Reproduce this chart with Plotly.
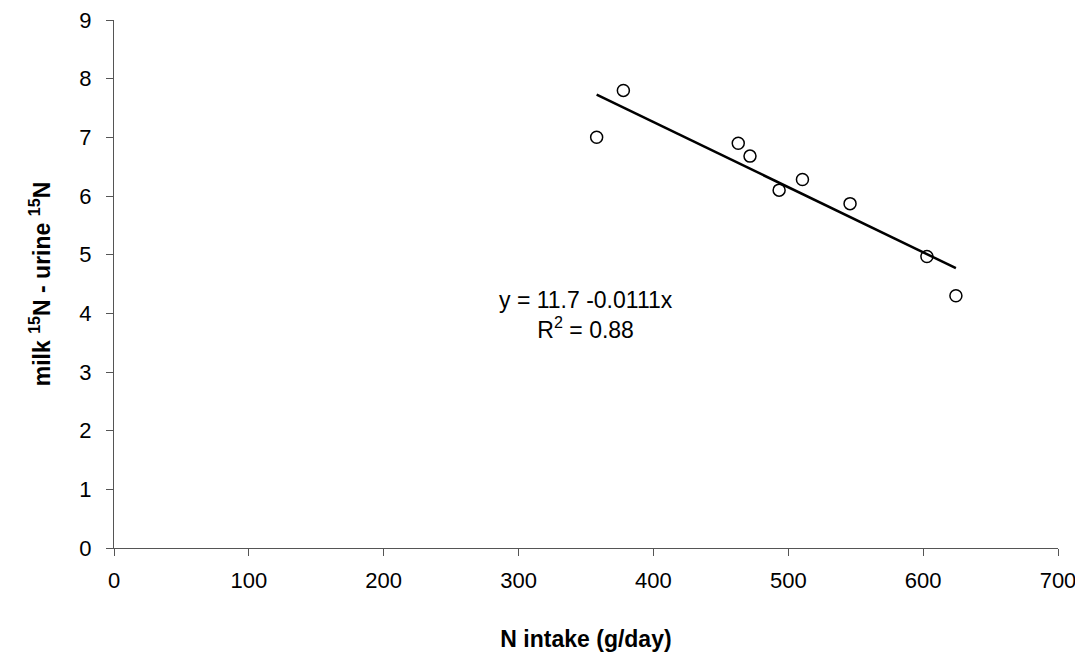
import plotly.graph_objects as go

# Data
n_intake = [357.9, 377.7, 462.9, 471.6, 493.2, 510.5, 545.8, 602.8, 624.3]
delta_15n = [7.00, 7.80, 6.90, 6.68, 6.10, 6.28, 5.87, 4.97, 4.30]

# Regression shown on chart
intercept = 11.7
slope = -0.0111
fit_x = [min(n_intake), max(n_intake)]
fit_y = [intercept + slope * x for x in fit_x]

x_ticks = [0, 100, 200, 300, 400, 500, 600, 700]
y_ticks = [0, 1, 2, 3, 4, 5, 6, 7, 8, 9]

font_family = "Liberation Sans, Arial, sans-serif"

fig = go.Figure()
fig.add_trace(go.Scatter(
    x=fit_x, y=fit_y, mode="lines",
    line=dict(color="black", width=2.5),
    showlegend=False, hoverinfo="skip",
))
fig.add_trace(go.Scatter(
    x=n_intake, y=delta_15n, mode="markers",
    marker=dict(symbol="circle-open", size=12, color="black", line=dict(width=1.5)),
    showlegend=False,
))

fig.add_annotation(
    x=350, y=3.98, xref="x", yref="y", xanchor="center", yanchor="middle",
    text="y = 11.7 -0.0111x<br>R<sup>2</sup> = 0.88",
    showarrow=False, align="center",
    font=dict(family=font_family, size=23, color="black"),
)

fig.update_layout(
    width=1075, height=644,
    margin=dict(l=106, r=25, t=12, b=104, autoexpand=False),
    paper_bgcolor="white", plot_bgcolor="white",
    font=dict(family=font_family, size=22, color="black"),
    xaxis=dict(
        range=[0, 700], tickvals=x_ticks, ticks="outside", ticklen=7,
        tickcolor="#555", showline=True, linecolor="#555", linewidth=1,
        showgrid=False, zeroline=False, ticklabelstandoff=6, automargin=False,
        ticklabeloverflow="allow",
        title=dict(text="<b>N intake (g/day)</b>", font=dict(size=23), standoff=45),
    ),
    yaxis=dict(
        range=[0, 9], tickvals=y_ticks, ticks="outside", ticklen=7,
        tickcolor="#555", showline=True, linecolor="#555", linewidth=1,
        showgrid=False, zeroline=False, ticklabelstandoff=10, automargin=False,
        ticklabeloverflow="allow",
        title=dict(text="<b>milk <sup>15</sup>N - urine <sup>15</sup>N</b>", font=dict(size=23), standoff=22),
    ),
)

fig.write_html("out.html")
